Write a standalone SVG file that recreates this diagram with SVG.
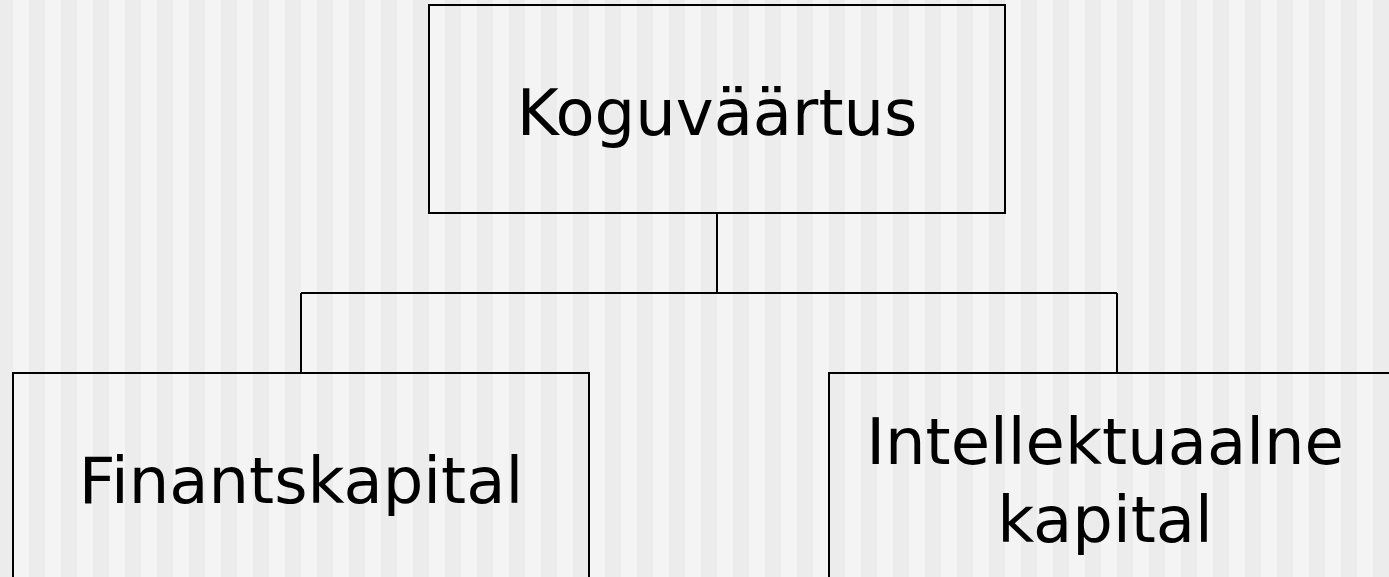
<svg xmlns="http://www.w3.org/2000/svg" width="1389" height="577" viewBox="0 0 1389 577">
<style>
.bg{fill:#f4f4f4}
.st{fill:#ececec}
.box{fill:none;stroke:#000;stroke-width:2}
.lbl{font-family:"DejaVu Sans",Verdana,sans-serif;font-size:64px;fill:#000;text-anchor:middle}
.conn{fill:none;stroke:#000;stroke-width:2}
</style>
<g id="background">
<rect class="bg" x="0" y="0" width="1389" height="577"/>
<path class="st" d="M0 0H13V577H0Z M29 0h16v577h-16Z M61 0h16v577h-16Z M93 0h16v577h-16Z M125 0h16v577h-16Z M157 0h16v577h-16Z M189 0h16v577h-16Z M221 0h16v577h-16Z M253 0h16v577h-16Z M285 0h16v577h-16Z M317 0h16v577h-16Z M349 0h16v577h-16Z M381 0h16v577h-16Z M413 0h16v577h-16Z M445 0h16v577h-16Z M477 0h16v577h-16Z M509 0h16v577h-16Z M541 0h16v577h-16Z M573 0h16v577h-16Z M605 0h16v577h-16Z M637 0h16v577h-16Z M669 0h16v577h-16Z M701 0h16v577h-16Z M733 0h16v577h-16Z M765 0h16v577h-16Z M797 0h16v577h-16Z M829 0h16v577h-16Z M861 0h16v577h-16Z M893 0h16v577h-16Z M925 0h16v577h-16Z M957 0h16v577h-16Z M989 0h16v577h-16Z M1021 0h16v577h-16Z M1053 0h16v577h-16Z M1085 0h16v577h-16Z M1117 0h16v577h-16Z M1149 0h16v577h-16Z M1181 0h16v577h-16Z M1213 0h16v577h-16Z M1245 0h16v577h-16Z M1277 0h16v577h-16Z M1309 0h16v577h-16Z M1341 0h16v577h-16Z M1373 0h16v577h-16Z"/>
</g>
<g id="connectors">
<path class="conn" d="M717 213 V293 M301 293 H1117 M301 293 V373 M1117 293 V373"/>
</g>
<g id="node-koguvaartus">
<rect class="box" x="429" y="5" width="576" height="208"/>
<text class="lbl" x="717" y="135">Koguväärtus</text>
</g>
<g id="node-finantskapital">
<rect class="box" x="13" y="373" width="576" height="240"/>
<text class="lbl" x="301" y="503">Finantskapital</text>
</g>
<g id="node-intellektuaalne">
<rect class="box" x="829" y="373" width="576" height="240"/>
<text class="lbl" x="1105" y="464">Intellektuaalne</text>
<text class="lbl" x="1105" y="542">kapital</text>
</g>
</svg>
